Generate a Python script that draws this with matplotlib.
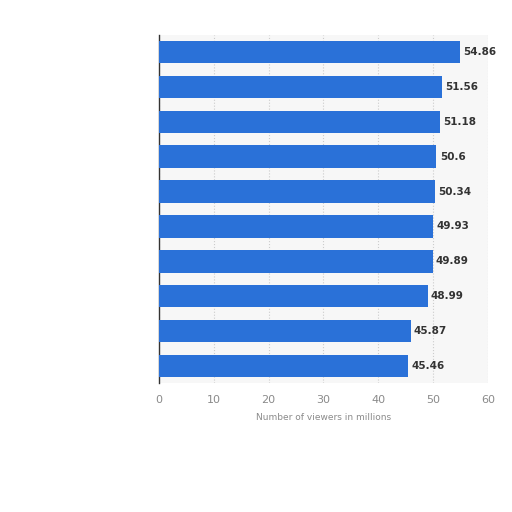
import matplotlib
matplotlib.use("Agg")
import matplotlib.pyplot as plt
import numpy as np

values = [54.86, 51.56, 51.18, 50.6, 50.34, 49.93, 49.89, 48.99, 45.87, 45.46]
value_labels = ["54.86", "51.56", "51.18", "50.6", "50.34", "49.93", "49.89", "48.99", "45.87", "45.46"]
xticks = [0, 10, 20, 30, 40, 50, 60]
xlabel = "Number of viewers in millions"

fig = plt.figure(figsize=(5.12, 5.12), dpi=100)
ax = fig.add_axes([0.3105, 0.251, 0.6426, 0.6816])
ax.set_facecolor("#f7f7f7")

y = np.arange(len(values))
ax.barh(y, values, height=0.64, color="#2a71d8", zorder=3)
for yi, v, lab in zip(y, values, value_labels):
    ax.text(v + 0.6, yi, lab, va="center", ha="left", fontsize=7.5,
            fontweight="bold", color="#333333", zorder=4)

ax.set_ylim(len(values) - 0.5, -0.5)
ax.set_xlim(0, 60)
ax.set_xticks(xticks)
ax.set_xticklabels([str(t) for t in xticks], color="#8a8a8a", fontsize=8)
ax.set_yticks([])
ax.tick_params(axis="x", length=0, pad=8)
ax.grid(axis="x", linestyle=":", color="#cccccc", linewidth=0.8, zorder=0)
for s in ["top", "right", "bottom"]:
    ax.spines[s].set_visible(False)
ax.spines["left"].set_color("#333333")
ax.spines["left"].set_linewidth(1.0)
ax.set_xlabel(xlabel, fontsize=6.5, color="#8a8a8a", labelpad=6)

fig.savefig("out.png", dpi=100, facecolor="white")
